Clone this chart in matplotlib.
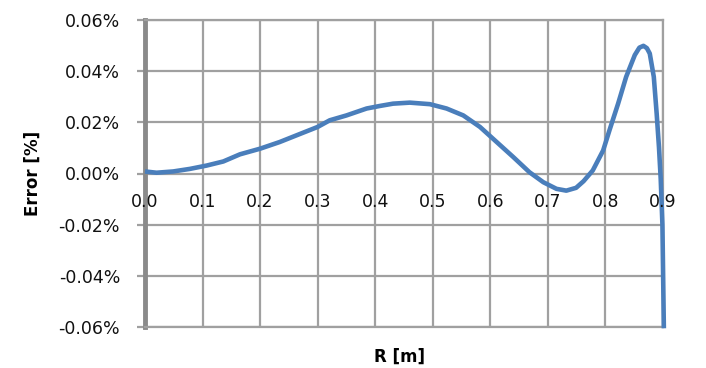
import matplotlib
matplotlib.use("Agg")
from matplotlib import pyplot as plt
from matplotlib.ticker import FuncFormatter

# error along radius
r = [0.0, 0.02, 0.049, 0.078, 0.107, 0.136, 0.165, 0.2, 0.234, 0.263, 0.3,
     0.321, 0.35, 0.385, 0.408, 0.431, 0.46, 0.495, 0.524, 0.553, 0.582,
     0.611, 0.64, 0.668, 0.692, 0.715, 0.732, 0.749, 0.762, 0.778, 0.796,
     0.807, 0.822, 0.836, 0.851, 0.859, 0.866, 0.872, 0.877, 0.884, 0.889,
     0.893, 0.896, 0.899, 0.9015]
err = [0.0008, 0.0003, 0.0008, 0.0018, 0.0031, 0.0047, 0.0075, 0.0097,
       0.0123, 0.0149, 0.0182, 0.0208, 0.0227, 0.0254, 0.0264, 0.0273, 0.0277,
       0.0271, 0.0254, 0.0227, 0.0182, 0.0123, 0.0064, 0.0005, -0.0034,
       -0.0060, -0.0067, -0.0056, -0.0030, 0.0012, 0.0090, 0.0169, 0.0273,
       0.0378, 0.0463, 0.0492, 0.0499, 0.0490, 0.0469, 0.0378, 0.0234, 0.0103,
       -0.0020, -0.0200, -0.0605]

x_ticks = [0.0, 0.1, 0.2, 0.3, 0.4, 0.5, 0.6, 0.7, 0.8, 0.9]
y_ticks = [-0.06, -0.04, -0.02, 0.0, 0.02, 0.04, 0.06]

fig = plt.figure(figsize=(7.06, 3.68), dpi=100)
ax = fig.add_axes([145 / 706, 41 / 368, 518 / 706, 307 / 368])

grid_col = "#a0a0a0"
ax.set_xlim(0, 0.9)
ax.set_ylim(-0.06, 0.06)
ax.set_xticks(x_ticks)
ax.set_yticks(y_ticks)
ax.grid(True, color=grid_col, linewidth=1.6)
ax.set_axisbelow(True)

for side in ["top", "right", "bottom"]:
    ax.spines[side].set_color(grid_col)
    ax.spines[side].set_linewidth(1.6)
ax.spines["left"].set_color("#8a8a8a")
ax.spines["left"].set_linewidth(3.5)

ax.plot(r, err, color="#4A7EBB", linewidth=3.3, solid_joinstyle="round",
        solid_capstyle="butt", clip_on=False, zorder=3)

# y tick labels as percent
ax.yaxis.set_major_formatter(FuncFormatter(lambda v, p: "%.2f%%" % v))
ax.tick_params(axis="y", length=6, width=1.6, color=grid_col, pad=12,
               labelsize=12.5, labelcolor="#111111")
# x labels sit on the zero line, Excel style
ax.tick_params(axis="x", length=0, labelbottom=False)
for t in x_ticks:
    ax.text(t, -0.0113, "%.1f" % t, ha="center", va="center", fontsize=12.5,
            color="#111111", zorder=4)

ax.set_ylabel("Error [%]", fontsize=12, fontweight="bold", labelpad=12)
fig.text(400 / 706, 1 - 357 / 368, "R [m]", ha="center", va="center",
         fontsize=12, fontweight="bold")

fig.savefig("out.png", dpi=100)
